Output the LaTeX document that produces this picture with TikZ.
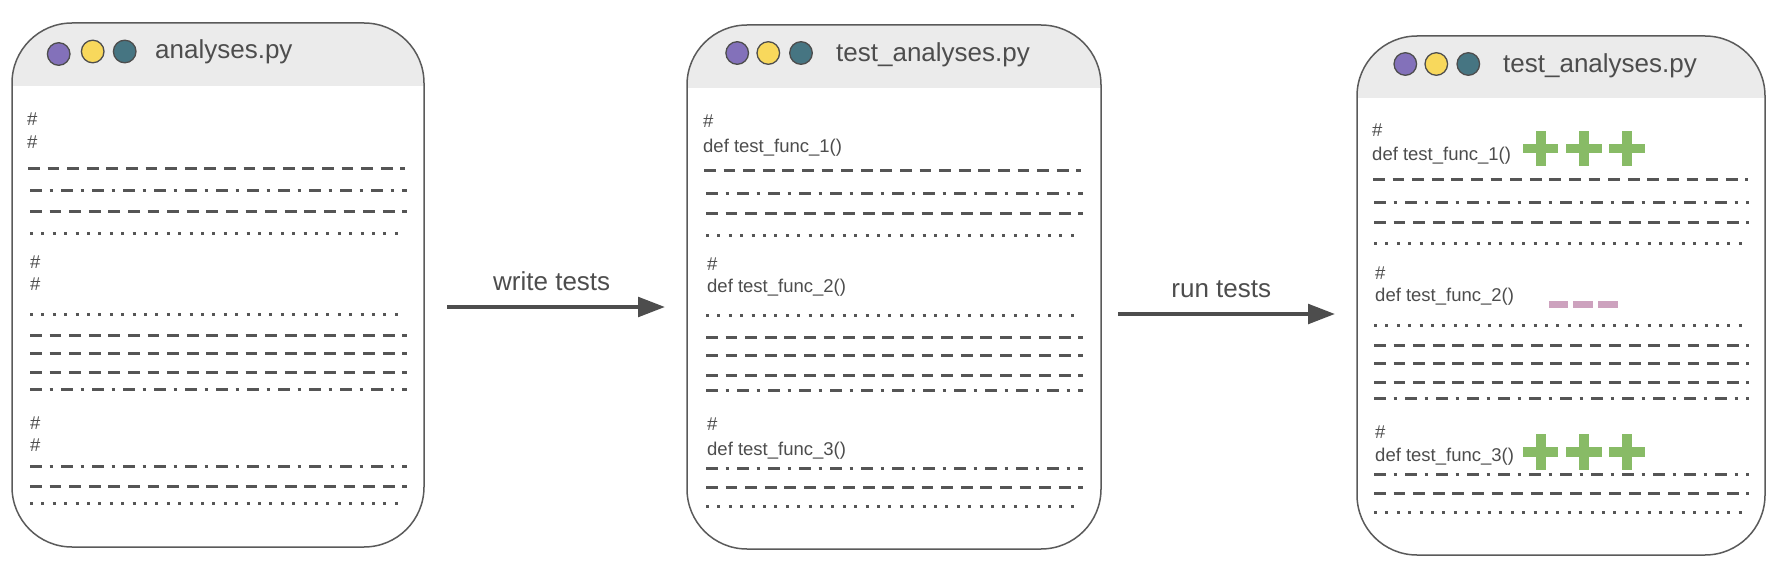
\documentclass[tikz,border=0pt]{standalone}
\usepackage{fontspec}
\setmainfont{Liberation Sans}
\usetikzlibrary{arrows.meta}
\definecolor{txt}{HTML}{4D4D4D}
\definecolor{lin}{HTML}{555555}
\definecolor{bord}{HTML}{5A5A5A}
\definecolor{hdr}{HTML}{EBEBEB}
\definecolor{cpurple}{HTML}{8371BA}
\definecolor{cyellow}{HTML}{F8D85C}
\definecolor{cteal}{HTML}{467582}
\definecolor{pgreen}{HTML}{88BB66}
\definecolor{mmauve}{HTML}{CDA2BE}
\newcommand\codeln[4]{\draw[#1] (#2,#4) -- (#3,#4);}
\newcommand\plussign[2]{\fill[pgreen] (#1-17.8,#2-4.7) rectangle (#1+17.8,#2+4.7);
  \fill[pgreen] (#1-5,#2-17.8) rectangle (#1+5,#2+17.8);}
\newcommand\minussign[3]{\fill[mmauve] (#1,#3-3.4) rectangle (#2,#3+3.4);}
\begin{document}
\begin{tikzpicture}[x=1pt,y=-1pt,
  panel/.style={draw=bord, line width=1.5pt, fill=white, rounded corners=60pt,
    inner sep=0pt, minimum width=#1},
  hdrclip/.style={path picture={\fill[hdr, sharp corners] (path picture bounding box.north west)
    rectangle ([yshift=-#1]path picture bounding box.north east);}},
  wdot/.style={circle, draw=txt, line width=1.3pt, minimum size=22.6pt, inner sep=0pt},
  title/.style={text=txt, inner sep=0pt, font=\fontsize{26}{30}\selectfont},
  code/.style={text=txt, inner sep=0pt, font=\fontsize{18.5}{21}\selectfont},
  lbl/.style={text=txt, inner sep=0pt, font=\fontsize{26}{30}\selectfont},
  ldash/.style={lin, line width=3pt, dash pattern=on 11.8pt off 7.8pt},
  ldashdot/.style={lin, line width=3pt, dash pattern=on 12pt off 7.5pt on 3pt off 8.5pt},
  ldot/.style={lin, line width=3pt, dash pattern=on 3pt off 8.4pt},
  arr/.style={txt, line width=4pt, -{Triangle[length=27pt,width=19.5pt]}}
]
\useasboundingbox (0,0) rectangle (1786,578);

% ---------- panels ----------
\node[panel=412pt, minimum height=524pt, hdrclip=63pt] (p1) at (218,285) {};
\node[panel=414pt, minimum height=524pt, hdrclip=63pt] (p2) at (894,287) {};
\node[panel=408pt, minimum height=519pt, hdrclip=62pt] (p3) at (1561,295.5) {};

% ---------- window buttons ----------
\node[wdot, fill=cpurple] (b1a) at (58.7,54) {};
\node[wdot, fill=cyellow] (b1b) at (92.7,51.5) {};
\node[wdot, fill=cteal]   (b1c) at (124.7,51.5) {};
\node[wdot, fill=cpurple] (b2a) at (737.2,53) {};
\node[wdot, fill=cyellow] (b2b) at (768.3,53) {};
\node[wdot, fill=cteal]   (b2c) at (801,53) {};
\node[wdot, fill=cpurple] (b3a) at (1405.3,64) {};
\node[wdot, fill=cyellow] (b3b) at (1436.3,64) {};
\node[wdot, fill=cteal]   (b3c) at (1468.3,64) {};

% ---------- titles ----------
\node[title, anchor=base west] (h1) at (155,58.3) {analyses.py};
\node[title, anchor=base west] (h2) at (836,61.7) {test\_analyses.py};
\node[title, anchor=base west] (h3) at (1503,72.7) {test\_analyses.py};

% ---------- panel 1 ----------
\node[code, anchor=base west] (t1a) at (27,125) {\#};
\node[code, anchor=base west] (t1b) at (27,148) {\#};
\node[code, anchor=base west] (t1c) at (30,268.3) {\#};
\node[code, anchor=base west] (t1d) at (30,290) {\#};
\node[code, anchor=base west] (t1e) at (30,429) {\#};
\node[code, anchor=base west] (t1f) at (30,451.7) {\#};
\codeln{ldash}{28}{405}{168}
\codeln{ldashdot}{30}{407}{190}
\codeln{ldash}{30}{407}{211}
\codeln{ldot}{30}{405}{233}
\codeln{ldot}{30}{405}{314.3}
\codeln{ldash}{30}{407}{335}
\codeln{ldash}{30}{407}{353}
\codeln{ldash}{30}{407}{372.3}
\codeln{ldashdot}{30}{407}{389}
\codeln{ldashdot}{30}{407}{466}
\codeln{ldash}{30}{407}{486}
\codeln{ldot}{30}{405}{503}

% ---------- panel 2 ----------
\node[code, anchor=base west] (t2a) at (703,127.3) {\#};
\node[code, anchor=base west] (t2b) at (703,152.7) {def test\_func\_1()};
\node[code, anchor=base west] (t2c) at (707,270.7) {\#};
\node[code, anchor=base west] (t2d) at (707,292) {def test\_func\_2()};
\node[code, anchor=base west] (t2e) at (707,430.7) {\#};
\node[code, anchor=base west] (t2f) at (707,455) {def test\_func\_3()};
\codeln{ldash}{704}{1081}{170}
\codeln{ldashdot}{706}{1083}{193}
\codeln{ldash}{706}{1083}{213}
\codeln{ldot}{706}{1081}{235}
\codeln{ldot}{706}{1081}{315}
\codeln{ldash}{706}{1083}{337}
\codeln{ldash}{706}{1083}{355}
\codeln{ldash}{706}{1083}{375}
\codeln{ldashdot}{706}{1083}{390}
\codeln{ldashdot}{706}{1083}{468}
\codeln{ldash}{706}{1083}{487}
\codeln{ldot}{706}{1081}{506}

% ---------- panel 3 ----------
\node[code, anchor=base west] (t3a) at (1372,136.7) {\#};
\node[code, anchor=base west] (t3b) at (1372,160) {def test\_func\_1()};
\node[code, anchor=base west] (t3c) at (1375,279) {\#};
\node[code, anchor=base west] (t3d) at (1375,301.7) {def test\_func\_2()};
\node[code, anchor=base west] (t3e) at (1375,438.3) {\#};
\node[code, anchor=base west] (t3f) at (1375,461.7) {def test\_func\_3()};
\codeln{ldash}{1373}{1748}{179}
\codeln{ldashdot}{1374}{1749}{202}
\codeln{ldash}{1374}{1749}{222}
\codeln{ldot}{1374}{1747}{243}
\codeln{ldot}{1374}{1747}{325}
\codeln{ldash}{1374}{1749}{345}
\codeln{ldash}{1374}{1749}{363}
\codeln{ldash}{1374}{1749}{382}
\codeln{ldashdot}{1374}{1749}{398}
\codeln{ldashdot}{1374}{1749}{474}
\codeln{ldash}{1374}{1749}{493}
\codeln{ldot}{1374}{1747}{512}

% ---------- results ----------
\plussign{1540.5}{148.3}
\plussign{1583.8}{148.3}
\plussign{1627.2}{148.3}
\minussign{1549}{1568.3}{304.3}
\minussign{1573.3}{1593.3}{304.3}
\minussign{1597.7}{1617.7}{304.3}
\plussign{1540.5}{452}
\plussign{1583.8}{452}
\plussign{1627.2}{452}

% ---------- arrows ----------
\coordinate (a1s) at (447,307);
\coordinate (a1e) at (665,307);
\coordinate (a2s) at (1118,314);
\coordinate (a2e) at (1335,314);
\draw[arr] (a1s) -- (a1e);
\draw[arr] (a2s) -- (a2e);
\node[lbl, anchor=base] (l1) at (551.7,290) {write tests};
\node[lbl, anchor=base] (l2) at (1221.3,297.7) {run tests};
\end{tikzpicture}
\end{document}
